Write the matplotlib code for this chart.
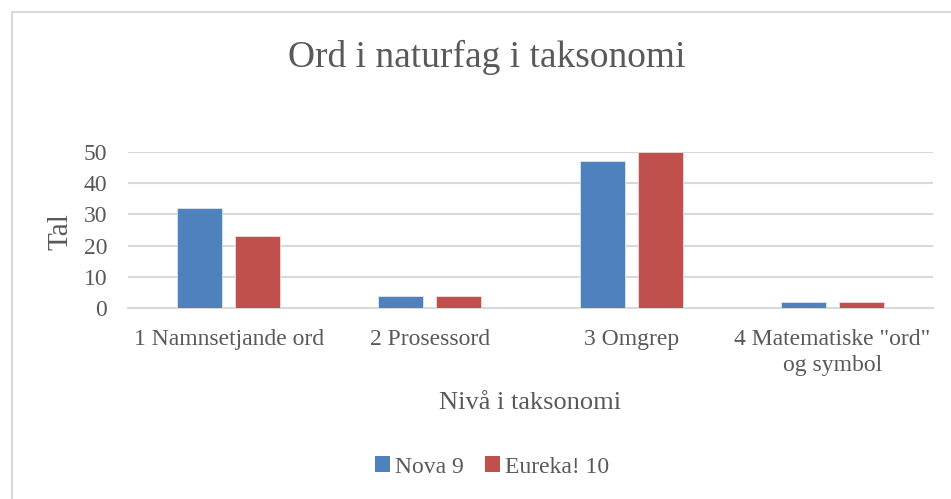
"""
Ord i naturfag i taksonomi - grouped bar chart
"""
import numpy as np
import matplotlib
matplotlib.use('Agg')
import matplotlib.pyplot as plt
from matplotlib.lines import Line2D
from matplotlib.patches import Patch

plt.rcParams['font.family'] = ['Liberation Serif', 'DejaVu Serif']

# Data
categories = ['1 Namnsetjande ord', '2 Prosessord', '3 Omgrep',
              '4 Matematiske "ord"\nog symbol']
nova9 = [32, 4, 47, 2]
eureka10 = [23, 4, 50, 2]
series_names = ['Nova 9', 'Eureka! 10']
yticks = [0, 10, 20, 30, 40, 50]

blue = '#4F81BD'
red = '#C0504D'
grey_text = '#595959'
grid_col = '#D9D9D9'

fig = plt.figure(figsize=(9.51, 4.99), dpi=100)
ax = fig.add_axes([128 / 951, 1 - 308 / 499, (933 - 128) / 951, (308 - 152) / 499])

x = np.arange(len(categories))
w = 0.224
off = 0.144
ax.bar(x - off, nova9, w, color=blue, edgecolor='#DCE6F2', linewidth=0.6, zorder=3)
ax.bar(x + off, eureka10, w, color=red, edgecolor='#F2DCDB', linewidth=0.6, zorder=3)

ax.set_xlim(-0.5, len(categories) - 0.5)
ax.set_ylim(0, 50)
ax.set_yticks(yticks)
ax.set_xticks(x)
ax.set_xticklabels(categories, fontsize=17, color=grey_text, linespacing=1.3)
ax.tick_params(axis='y', labelsize=17, labelcolor=grey_text, length=0, pad=15)
ax.tick_params(axis='x', length=0, pad=15)
ax.yaxis.grid(True, color=grid_col, linewidth=1.5, zorder=0)
ax.set_axisbelow(True)
for s in ['top', 'right', 'left']:
    ax.spines[s].set_visible(False)
ax.spines['bottom'].set_color(grid_col)
ax.spines['bottom'].set_linewidth(1.5)

fig.text(60 / 951, 1 - 232 / 499, 'Tal', fontsize=21, color=grey_text,
         rotation=90, ha='center', va='center')
fig.text(530 / 951, 1 - 403 / 499, 'Nivå i taksonomi', fontsize=19, color=grey_text,
         ha='center', va='center')
fig.text(487 / 951, 1 - 57 / 499, 'Ord i naturfag i taksonomi', fontsize=27,
         color=grey_text, ha='center', va='center')

handles = [Patch(facecolor=blue), Patch(facecolor=red)]
fig.legend(handles, series_names, loc='center', bbox_to_anchor=(492 / 951, 1 - 467 / 499),
           ncol=2, frameon=False, fontsize=17, labelcolor=grey_text,
           handlelength=0.65, handleheight=0.65, handletextpad=0.2, columnspacing=0.9)

# chart border (left and top edges visible only)
fig.add_artist(Line2D([11.5 / 951, 11.5 / 951], [0, 1 - 12 / 499], color='#D9D9D9',
                      linewidth=1.5, transform=fig.transFigure))
fig.add_artist(Line2D([11.5 / 951, 1], [1 - 12 / 499, 1 - 12 / 499], color='#D9D9D9',
                      linewidth=1.5, transform=fig.transFigure))

plt.savefig('out.png', dpi=100)
